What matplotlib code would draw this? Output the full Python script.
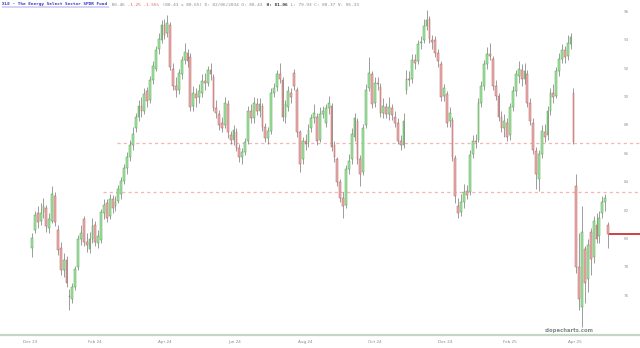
import matplotlib
matplotlib.use("Agg")
import matplotlib.pyplot as plt
import numpy as np

# daily candles, XLE
opens = [79.4, 80.6, 81.8, 81.3, 81.9, 82.2, 80.8, 81.3, 83.0, 80.6,
         79.4, 77.8, 78.5, 76.0, 75.8, 76.6, 78.0, 80.0, 81.4, 79.8,
         79.3, 80.0, 81.0, 79.7, 79.9, 81.8, 82.5, 81.6, 82.8, 82.3,
         82.7, 83.2, 84.1, 85.0, 85.8, 86.6, 87.8, 88.6, 89.4, 89.0,
         90.4, 89.8, 91.2, 92.0, 93.4, 94.0, 95.1, 94.5, 95.1, 92.0,
         90.8, 90.5, 91.6, 92.6, 93.1, 92.8, 89.4, 90.2, 90.0, 90.3,
         91.1, 91.0, 91.9, 91.4, 89.2, 88.8, 88.2, 88.0, 89.5, 87.3,
         87.0, 87.5, 86.4, 85.8, 86.1, 86.9, 89.0, 88.5, 89.5, 89.0,
         89.4, 87.9, 87.1, 87.6, 90.3, 90.7, 91.6, 91.2, 88.6, 89.3,
         90.3, 91.7, 90.5, 87.5, 85.6, 86.9, 86.8, 87.8, 88.5, 88.6,
         87.0, 88.8, 88.2, 89.2, 89.4, 86.6, 85.6, 84.0, 82.9, 82.4,
         84.9, 85.6, 87.2, 88.3, 85.6, 84.7, 88.0, 90.6, 91.6, 89.6,
         91.0, 90.7, 88.9, 89.3, 88.8, 89.2, 88.6, 88.2, 86.9, 86.6,
         90.5, 91.3, 91.3, 92.6, 92.5, 93.8, 94.0, 95.0, 95.5, 94.0,
         94.0, 93.1, 92.3, 90.1, 90.2, 88.3, 88.4, 85.7, 82.3, 81.9,
         82.6, 83.4, 83.3, 86.0, 86.9, 87.0, 89.6, 90.8, 92.3, 93.0,
         92.7, 90.8, 90.1, 88.6, 87.8, 88.2, 87.3, 89.3, 90.4, 91.5,
         91.9, 91.3, 91.6, 89.6, 88.2, 86.2, 84.2, 86.0, 87.5, 87.3,
         89.0, 90.3, 90.1, 91.8, 92.7, 93.3, 92.9, 93.7, 90.3, 83.7,
         78.0, 75.2, 79.3, 77.2, 80.5, 78.7, 81.0, 80.2, 81.8, 82.6,
         81.0]
highs = [80.4, 82.0, 82.3, 82.5, 82.9, 82.4, 81.8, 83.7, 83.3, 81.0,
         79.8, 79.0, 78.8, 76.5, 76.9, 78.1, 80.3, 81.0, 81.6, 80.4,
         80.5, 81.5, 81.3, 80.6, 82.1, 82.8, 82.8, 83.2, 83.1, 83.0,
         83.8, 84.4, 85.3, 86.1, 87.0, 87.9, 88.9, 89.8, 90.0, 90.6,
         90.7, 91.5, 92.5, 93.6, 94.5, 95.4, 95.5, 95.8, 95.3, 92.4,
         91.4, 92.0, 92.9, 93.8, 93.4, 93.1, 90.8, 90.6, 90.9, 91.6,
         91.7, 92.2, 92.4, 91.6, 89.8, 89.1, 88.6, 90.0, 89.8, 87.6,
         88.0, 87.8, 86.7, 86.4, 87.1, 89.4, 89.5, 90.0, 89.9, 89.9,
         89.6, 88.2, 87.9, 90.6, 91.0, 91.9, 92.4, 91.4, 89.8, 90.8,
         90.6, 92.0, 90.7, 87.7, 87.2, 87.4, 88.1, 88.8, 89.5, 88.9,
         89.3, 89.4, 89.5, 90.1, 89.6, 86.9, 85.8, 84.2, 83.3, 85.2,
         86.0, 87.8, 88.9, 88.5, 85.9, 88.1, 90.9, 92.8, 91.8, 91.4,
         91.4, 91.0, 89.9, 89.6, 90.0, 89.5, 89.0, 88.5, 87.3, 88.9,
         91.9, 91.8, 93.0, 93.0, 94.0, 94.3, 95.5, 96.1, 95.7, 94.4,
         94.3, 93.4, 92.5, 90.9, 90.4, 89.3, 88.6, 85.9, 82.9, 83.2,
         83.9, 83.8, 86.3, 87.3, 87.4, 89.9, 91.1, 92.6, 93.5, 93.8,
         92.9, 91.2, 90.3, 89.0, 88.8, 88.5, 89.6, 90.8, 91.9, 92.5,
         92.3, 92.4, 91.9, 89.9, 88.5, 86.5, 86.3, 88.0, 88.1, 89.4,
         90.6, 90.9, 92.1, 93.1, 93.7, 93.6, 94.4, 94.5, 90.6, 84.6,
         80.4, 82.3, 79.5, 80.0, 80.8, 81.6, 81.8, 82.0, 83.0, 83.2,
         81.2]
lows = [78.7, 80.4, 80.8, 81.0, 81.5, 80.5, 80.4, 81.1, 80.9, 78.9,
        77.5, 77.3, 76.6, 75.0, 75.5, 76.4, 77.8, 79.6, 79.5, 79.1,
        79.0, 79.7, 79.5, 79.4, 79.7, 81.4, 81.2, 81.4, 81.8, 82.0,
        82.5, 82.8, 83.9, 84.6, 85.5, 86.3, 87.5, 88.3, 88.6, 88.8,
        89.3, 89.6, 90.9, 91.8, 93.0, 93.8, 94.1, 94.2, 91.9, 90.5,
        90.0, 90.2, 91.3, 92.3, 92.1, 89.0, 89.0, 89.3, 89.6, 90.0,
        90.5, 90.8, 91.2, 89.0, 88.5, 87.7, 87.5, 87.8, 87.1, 86.7,
        86.6, 86.2, 85.4, 85.3, 85.9, 86.7, 88.2, 88.2, 88.7, 88.6,
        87.6, 86.8, 86.7, 87.4, 90.0, 90.4, 91.0, 88.3, 88.2, 89.0,
        89.6, 90.5, 87.2, 84.7, 85.3, 86.3, 86.5, 87.5, 88.2, 86.6,
        86.8, 88.5, 87.9, 88.8, 86.2, 85.4, 83.7, 82.6, 81.5, 82.2,
        84.6, 85.3, 86.9, 85.3, 83.7, 84.5, 87.8, 90.4, 89.2, 89.3,
        90.5, 88.6, 88.5, 88.5, 88.4, 88.4, 87.9, 86.7, 86.3, 86.4,
        90.2, 90.8, 91.0, 92.0, 92.3, 93.4, 93.8, 94.7, 93.8, 93.4,
        92.8, 92.1, 89.7, 89.7, 87.9, 87.9, 85.5, 82.5, 81.5, 81.6,
        82.2, 82.8, 83.1, 85.7, 86.4, 86.8, 89.3, 90.5, 92.0, 92.6,
        90.5, 89.8, 88.3, 87.5, 87.2, 86.9, 87.0, 89.0, 90.1, 91.0,
        90.8, 90.9, 89.3, 88.0, 86.0, 83.5, 83.4, 85.7, 86.8, 87.0,
        88.7, 89.6, 89.9, 91.5, 92.4, 92.4, 92.6, 93.4, 86.7, 77.6,
        75.0, 73.8, 75.5, 76.3, 77.5, 78.3, 79.7, 79.7, 81.5, 82.0,
        79.4]
closes = [80.1, 81.7, 81.2, 81.8, 82.3, 80.9, 81.4, 83.2, 81.2, 79.2,
          77.8, 78.5, 76.9, 75.9, 76.6, 77.9, 80.0, 80.4, 79.8, 79.6,
          80.0, 80.9, 79.8, 80.2, 81.9, 82.4, 81.5, 82.8, 82.2, 82.6,
          83.5, 84.1, 85.0, 85.8, 86.6, 87.4, 88.6, 89.4, 89.0, 90.2,
          89.7, 91.2, 92.2, 93.3, 94.1, 95.1, 94.4, 95.2, 92.1, 90.8,
          90.5, 91.7, 92.6, 93.2, 92.5, 89.3, 90.3, 89.9, 90.4, 91.1,
          91.0, 91.9, 91.6, 89.2, 88.9, 88.0, 87.8, 89.6, 87.5, 87.0,
          87.7, 86.4, 85.8, 86.1, 86.8, 89.0, 88.5, 89.6, 89.0, 89.5,
          87.9, 87.1, 87.6, 90.3, 90.6, 91.6, 91.3, 88.6, 89.5, 90.4,
          90.0, 90.8, 87.5, 85.3, 86.9, 86.7, 87.7, 88.5, 88.9, 86.9,
          88.8, 89.0, 89.2, 89.6, 86.5, 85.8, 84.0, 82.9, 82.3, 84.9,
          85.5, 87.4, 88.5, 85.6, 84.6, 87.8, 90.5, 91.7, 89.5, 91.0,
          90.9, 88.9, 89.4, 88.8, 89.3, 88.7, 88.2, 86.9, 86.6, 88.3,
          91.3, 91.2, 92.6, 92.4, 93.7, 93.9, 95.0, 95.4, 94.1, 93.9,
          93.1, 92.5, 90.0, 90.6, 88.2, 88.9, 85.8, 83.0, 81.8, 82.6,
          83.3, 83.1, 85.9, 86.9, 86.8, 89.6, 90.8, 92.3, 93.0, 92.9,
          90.8, 90.1, 88.6, 87.8, 88.3, 87.2, 89.3, 90.4, 91.6, 92.0,
          91.3, 91.8, 89.6, 88.3, 86.3, 84.6, 86.0, 87.6, 87.2, 89.0,
          90.3, 90.0, 91.8, 92.7, 93.3, 92.8, 93.8, 94.2, 86.8, 78.0,
          75.8, 80.5, 76.9, 79.6, 78.6, 81.3, 80.0, 81.5, 82.6, 82.9,
          80.37]

month_labels = ["Dec 23", "Feb 24", "Apr 24", "Jun 24", "Aug 24",
                "Oct 24", "Dec 24", "Feb 25", "Apr 25"]
month_pos = [-0.7, 21.9, 46.2, 70.5, 94.8, 119.1, 143.4, 166.0, 188.5]
price_ticks = [76, 78, 80, 82, 84, 86, 88, 90, 92, 94, 96]
levels = [86.75, 83.3]
level_start = [29.5, 24.7]

title_parts = [
    ("XLE - The Energy Select Sector SPDR Fund", "#3030c8", "bold"),
    (" 80.46", "#8a8a8a", "normal"),
    (" -1.25 -1.55%", "#e06060", "normal"),
    (" (80.43 x 80.65) D: 02/06/2034 O: 80.43", "#8a8a8a", "normal"),
    (" H: 81.06", "#333333", "bold"),
    (" L: 79.93 C: 80.37 V: 96.33", "#8a8a8a", "normal"),
]

o = np.array(opens)
h = np.array(highs)
l = np.array(lows)
c = np.array(closes)
x = np.arange(len(c))
up = c >= o

fig = plt.figure(figsize=(6.4, 3.48), dpi=100)
fig.patch.set_facecolor("white")
ax = fig.add_axes([0, 13 / 348, 1, 335 / 348])

# wicks then bodies
ax.vlines(x, l, h, color="#666666", lw=0.45, zorder=2)
ax.bar(x[up], (c - o)[up], bottom=o[up], width=0.62, color="#a6e6a6",
       edgecolor="#4aa04a", lw=0.35, zorder=3)
ax.bar(x[~up], (o - c)[~up], bottom=c[~up], width=0.62, color="#ebb0b0",
       edgecolor="#b66060", lw=0.35, zorder=3)

x_right = 211.1
for lev, start in zip(levels, level_start):
    ax.hlines(lev, start, x_right, colors="#f5b5b5", linestyles=(0, (2.5, 2.5)),
              lw=0.9, zorder=1)
ax.hlines(c[-1], x[-1] + 0.4, x_right, colors="#c83232", lw=1.3, zorder=4)

ax.set_xlim(-11.1, x_right)
ax.set_ylim(73.24, 96.83)
ax.set_xticks([])
ax.set_yticks([])
for s in ["top", "left", "right"]:
    ax.spines[s].set_visible(False)
ax.spines["bottom"].set_color("#c6d6c6")
ax.spines["bottom"].set_linewidth(1.6)

for v in price_ticks:
    ax.text(206.5, v, str(v), fontsize=3, color="#9a9a9a", ha="center",
            va="center")

for lab, pos in zip(month_labels, month_pos):
    ax.text(pos, -0.022, lab, transform=ax.get_xaxis_transform(),
            fontsize=3, color="#8a8a8a", ha="center", va="center",
            clip_on=False)

ax.text(0.89, 0.014, "slopecharts.com", transform=ax.transAxes,
        fontsize=3.8, fontweight="bold", color="#7d8a8a", ha="center",
        va="center")

# header line, monospace so segments can be laid out by character count
fs = 3.2
char_px = 0.602 * fs * 100 / 72
pos_px = 2.0
for text, col, weight in title_parts:
    fig.text(pos_px / 640, 1 - 4.5 / 348, text, fontsize=fs,
             family="DejaVu Sans Mono", color=col, fontweight=weight,
             ha="left", va="center")
    if col == "#3030c8":
        fig.add_artist(plt.Line2D([pos_px / 640, (pos_px + len(text) * char_px) / 640],
                                  [1 - 7 / 348, 1 - 7 / 348], color=col, lw=0.3))
    pos_px += len(text) * char_px

fig.savefig("out.png", dpi=100, facecolor="white")
